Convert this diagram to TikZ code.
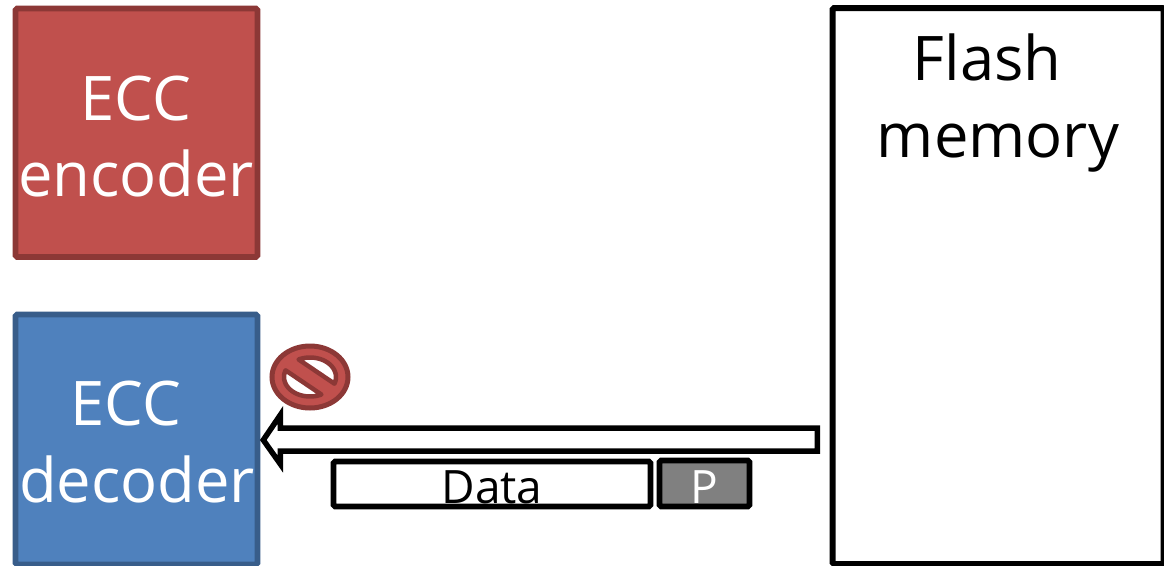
\documentclass[tikz,border=0pt]{standalone}
\usepackage{fontspec}
\usetikzlibrary{shapes.geometric}
\setmainfont{Open Sans}
\definecolor{redfill}{HTML}{C0504D}
\definecolor{redline}{HTML}{8C3836}
\definecolor{bluefill}{HTML}{4F81BD}
\definecolor{blueline}{HTML}{385D8A}
\tikzset{
  box/.style={rectangle,inner sep=0pt,line width=5.6pt,rounded corners=1.5pt},
  big/.style={inner sep=0pt,anchor=base,font=\fontsize{61.5}{61.5}\selectfont},
  small/.style={inner sep=0pt,anchor=base,font=\fontsize{46}{46}\selectfont},
  hole/.style={fill=white,draw=redline,line width=4.5pt,line join=round},
}
\begin{document}
\begin{tikzpicture}[x=1pt,y=-1pt]
\useasboundingbox (0,0) rectangle (1164,565);
\fill[white] (0,0) rectangle (1164,565);
% boxes
\node[box,draw=redline,fill=redfill,minimum width=242pt,minimum height=248.5pt] (encoder) at (136.5,132.75) {};
\node[box,draw=blueline,fill=bluefill,minimum width=242pt,minimum height=250pt] (decoder) at (136.5,439.5) {};
\node[box,draw=black,fill=white,line width=6pt,minimum width=331pt,minimum height=556pt] (flash) at (998,286) {};
\node[box,draw=black,fill=white,minimum width=317pt,minimum height=45pt] (data) at (492,484) {};
\node[box,draw=black,fill=black!50,minimum width=90pt,minimum height=46pt] (parity) at (704.5,483.5) {};
% labels
\node[big,text=white] (enc1) at (136,120) {ECC};
\node[big,text=white] (enc2) at (136,196) {encoder};
\node[big,text=white] (dec1) at (126,425) {ECC};
\node[big,text=white] (dec2) at (137,502) {decoder};
\node[big,text=black] (fl1) at (987,80) {Flash};
\node[big,text=black] (fl2) at (998,157) {memory};
\node[small,text=black] (datalabel) at (492,503) {Data};
\node[small,text=white] (plabel) at (704.5,503) {P};
% block arrow
\draw[line width=5.5pt,line join=miter,miter limit=10,fill=white]
  (decoder.east) ++(3,-0.5) ++(0,1) -- ++(17,-25) -- ++(0,13) -- ++(537,0) -- ++(0,23)
  -- ++(-537,0) -- ++(0,13) -- cycle;
% no symbol
\node[ellipse,inner sep=0pt,minimum width=76pt,minimum height=62pt,fill=redfill,draw=redline,line width=5pt] (nosym) at (310,377) {};
\draw[hole] plot[domain=64:200,samples=30] ({310+26*cos(\x)},{377+19.5*sin(\x)}) -- cycle;
\draw[hole] plot[domain=244:380,samples=30] ({310+26*cos(\x)},{377+19.5*sin(\x)}) -- cycle;
\end{tikzpicture}
\end{document}
